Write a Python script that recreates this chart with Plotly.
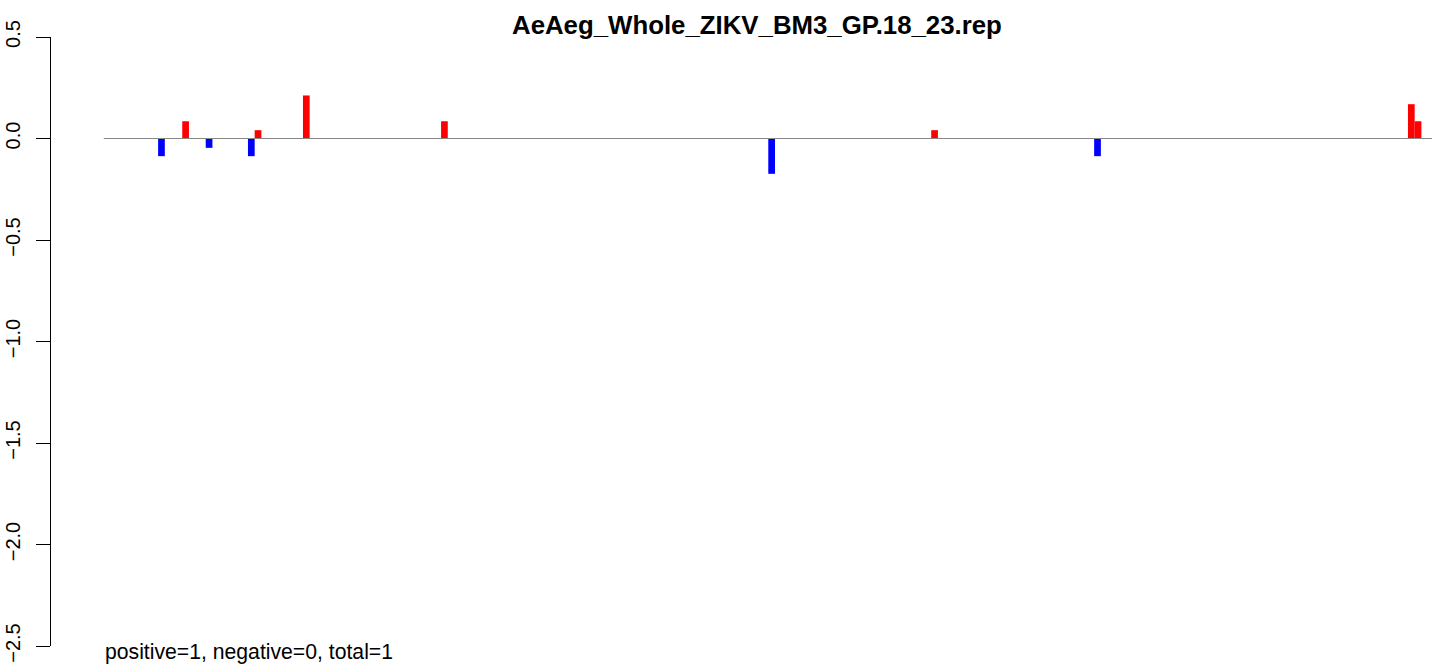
import plotly.graph_objects as go

# Data
title_text = "AeAeg_Whole_ZIKV_BM3_GP.18_23.rep"
pos_x = [12.2, 23, 30.2, 50.8, 123.9, 195, 196]
pos_y = [0.085, 0.041, 0.212, 0.085, 0.041, 0.169, 0.085]
neg_x = [8.6, 15.7, 22, 99.6, 148.2]
neg_y = [-0.087, -0.046, -0.087, -0.174, -0.087]
zero_line_x = [0, 198.1]
zero_line_y = [0, 0]
y_ticks = [0.5, 0.0, -0.5, -1.0, -1.5, -2.0, -2.5]
y_tick_labels = ["0.5", "0.0", "\u22120.5", "\u22121.0", "\u22121.5", "\u22122.0", "\u22122.5"]
footer_text = "positive=1, negative=0, total=1"

W, H = 1439, 664
L, R, T, B = 51, 0, 37, 18
FONT = "Liberation Sans, Arial, Helvetica, sans-serif"

fig = go.Figure()
fig.add_trace(go.Scatter(x=zero_line_x, y=zero_line_y, mode="lines",
                         line=dict(color="#888888", width=1), hoverinfo="skip"))
fig.add_trace(go.Bar(x=pos_x, y=pos_y, width=1, marker=dict(color="#ff0000", line=dict(width=0))))
fig.add_trace(go.Bar(x=neg_x, y=neg_y, width=1, marker=dict(color="#0000ff", line=dict(width=0))))

plot_w = W - L - R
fig.update_layout(
    width=W, height=H,
    margin=dict(l=L, r=R, t=T, b=B, pad=0, autoexpand=False),
    paper_bgcolor="white", plot_bgcolor="white",
    showlegend=False, barmode="overlay",
    font=dict(family=FONT, size=20, color="black"),
    xaxis=dict(range=[-7.875, 199.13], visible=False, showgrid=False, zeroline=False,
               automargin=False),
    yaxis=dict(range=[-2.5, 0.5], tickmode="array", tickvals=y_ticks, ticktext=y_tick_labels,
               tickangle=-90, ticks="outside", ticklen=14, tickwidth=1, tickcolor="black",
               showline=True, linecolor="black", linewidth=1, showgrid=False, zeroline=False,
               automargin=False,
               ticklabelstandoff=8, tickfont=dict(size=20, family=FONT)),
    annotations=[
        dict(text="<b>" + title_text + "</b>", xref="paper", yref="paper",
             x=(757 - L) / plot_w, y=1, xanchor="center", yanchor="bottom", yshift=-4.5,
             showarrow=False, font=dict(size=25.8, family=FONT)),
        dict(text=footer_text, xref="paper", yref="paper",
             x=(103.3 - L) / plot_w, y=0, xanchor="left", yanchor="top", yshift=8,
             showarrow=False, font=dict(size=21.2, family=FONT)),
    ],
)

fig.write_html("out.html", config={"displayModeBar": False},
               post_script="document.body.style.margin='0';")
